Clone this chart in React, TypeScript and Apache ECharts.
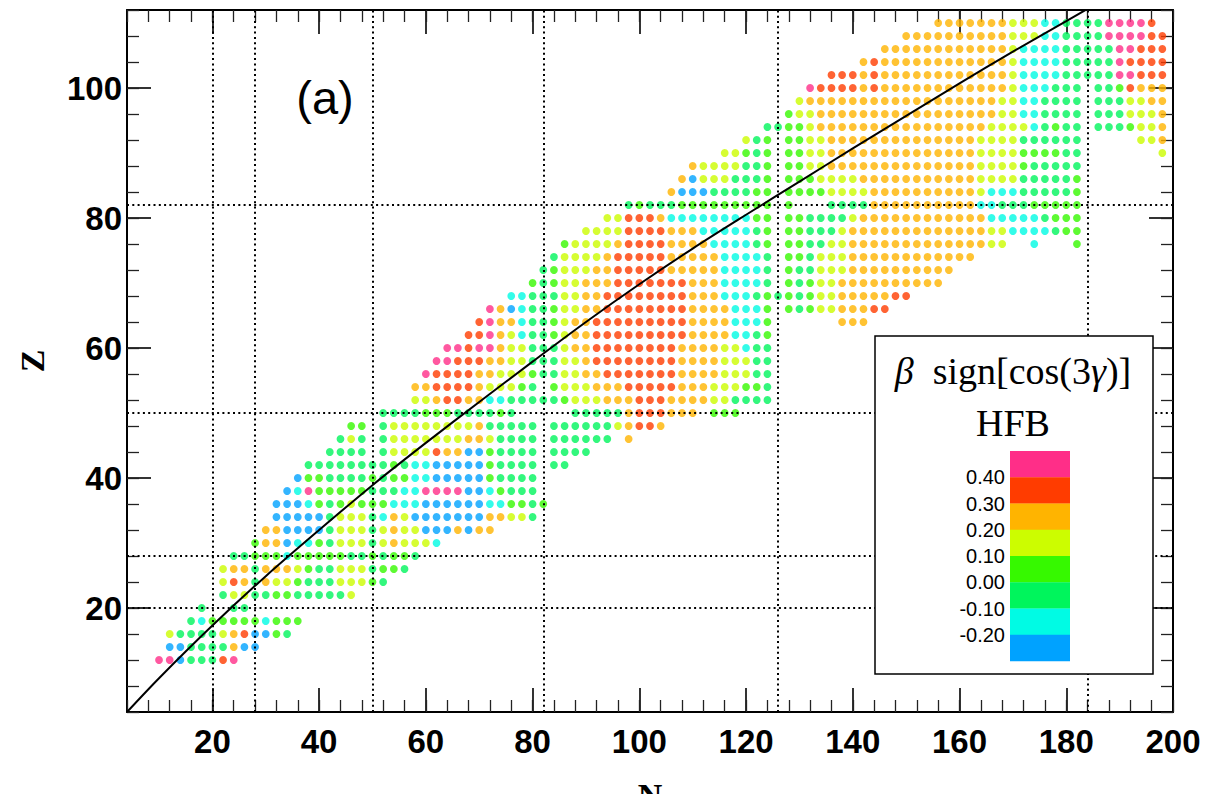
import React, { useEffect, useRef } from "react";
import * as echarts from "echarts";

// magic numbers (dotted guide lines)
const magicN: number[] = [20, 28, 50, 82, 126, 184];
const magicZ: number[] = [20, 28, 50, 82];

// tick labels
const nTicks: number[] = [20, 40, 60, 80, 100, 120, 140, 160, 180, 200];
const zTicks: number[] = [20, 40, 60, 80, 100];

// colour bins (top of colour bar to bottom)
const binCodes: string[] = ["P", "R", "O", "Y", "G", "T", "C", "B"];
const binValues: number[] = [0.45, 0.35, 0.25, 0.15, 0.05, -0.05, -0.15, -0.25];
const binColors: string[] = ["#ff2e88", "#ff3c00", "#ffb400", "#ccfd00", "#36f900", "#00f55c", "#00fbe4", "#00a2ff"];
const binLabels: string[] = ["0.40", "0.30", "0.20", "0.10", "0.00", "-0.10", "-0.20"];

// beta-stability line: [N, Z]
const stabilityLine: number[][] = [
  [4, 4], [10, 9.2], [20, 17.3], [30, 24.9], [40, 32.0], [50, 38.9], [60, 45.4],
  [70, 51.7], [80, 57.9], [90, 64.0], [100, 69.8], [110, 75.3], [120, 80.5],
  [130, 85.6], [140, 90.7], [150, 95.7], [160, 100.7], [170, 105.6], [180, 110.3], [190, 115],
];

// rows of even-even nuclei: [Z, first N, run-length coded bins per even N ('.' = empty)]
const deformationRows: [number, number, string][] = [
  [12, 10, "P2BT3RP"],
  [14, 12, "B2T4OB2"],
  [16, 12, "YT4YORB2GT"],
  [18, 16, "TCG5CG3"],
  [20, 18, "T.2T2"],
  [22, 22, "TY2T2G2T5Y"],
  [24, 22, "YROTOY2GT3Y3GT"],
  [26, 22, "YO2TO3YGT2Y3TG2T"],
  [28, 24, "T2G3CG5T2GTG2T"],
  [30, 28, "GO2BC2GTY3TYOY3C"],
  [32, 30, "O2B4TY3TYOY2B3OBO2"],
  [34, 32, "B5TY3TCOYB7O2Y2T"],
  [36, 32, "B3CGTGYG3C3B6C2G2TG"],
  [38, 34, "BCPG5T3C2P4B2CGT3"],
  [40, 36, "BG2T4GTG2C2B5GT4"],
  [42, 38, "T8GTC2B5GT4.T2"],
  [44, 42, "T4.TY4RO2B2GT4.T4"],
  [46, 44, "TYT.TY7O2YT4.T6.O"],
  [48, 46, "G2.TY8OT5.T6YOR2O"],
  [50, 52, "T4G3T4GT.5T5OR3O3.G3"],
  [52, 58, "Y2OR2O2C2T5GY3O3R3O4Y2T4"],
  [54, 58, "O2R4OY3GT.GY3O3R5O3Y3G2T"],
  [56, 60, "PR4O2Y3GT2Y2O2R7O4Y3T2"],
  [58, 62, "P2R3O2Y2T3Y2OR8O4Y3T2"],
  [60, 64, "P2RP2OY2T3YO2R8O4Y2CT2"],
  [62, 68, "R2POYCT2GYO2R9O4C2TG"],
  [64, 70, "RPO2CT2GYO2R9O4C3G.6O3"],
  [66, 72, "POBCT2GY2O2R8O4C3G.GTGY2O3R2"],
  [68, 76, "C2T3Y2O2R8O3C3TGTGTGY2O5R2"],
  [70, 80, "GTGY2O3R7O3C4T.GTGY2O10"],
  [72, 82, "TGY3O2R5O5C4T.GT2Y3O10"],
  [74, 84, "TY4OR5O5C4T.G2TY3O12"],
  [76, 86, "GY4OR4O4C4TG.G2T2Y2O13Y2.2C.3G"],
  [78, 90, "Y4R4O3C5TG.G2T3YO13Y2C4TG2"],
  [80, 94, "Y2R3OC8G2.G2T4YO12C5TG3"],
  [82, 98, "TGT3G9.G.3T4O10C2T3G5"],
  [84, 106, "OB3T4G2.G4Y4O10YC3T5G"],
  [86, 108, "OBY3T3G.G3Y4O11Y4T5G"],
  [88, 110, "OY4T2G.G2Y2O14Y4GT5"],
  [90, 116, "Y2GTG.G2Y2O14Y4G4T2.7Y"],
  [92, 120, "YTG.G2Y2O14Y4T6.5Y2O"],
  [94, 124, "T2G2YO16Y4CTGT2.T3GY2O"],
  [96, 128, "GY2O17Y2C2T4.T3Y3O"],
  [98, 130, "YO18Y2C2T4.T3Y2O2"],
  [100, 132, "PR4ORO12YC3T3.T2GRO3"],
  [102, 136, "R3ORO12YC4T5P2R3"],
  [104, 142, "ORO12YC4T5PR4"],
  [106, 146, "O12YC4T5P2R3"],
  [108, 150, "O10Y3C2T4P4R2"],
  [110, 156, "O7Y3C2T4P4R"],
];

function decodeRow(s: string): string[] {
  const out: string[] = [];
  let i = 0;
  while (i < s.length) {
    const ch = s[i++];
    let num = "";
    while (i < s.length && s[i] >= "0" && s[i] <= "9") num += s[i++];
    const n = num ? parseInt(num, 10) : 1;
    for (let k = 0; k < n; k++) out.push(ch);
  }
  return out;
}

function buildPoints() {
  const pts: any[] = [];
  for (const [z, n0, code] of deformationRows) {
    decodeRow(code).forEach((c, i) => {
      const k = binCodes.indexOf(c);
      if (k < 0) return;
      pts.push({ value: [n0 + 2 * i, z, binValues[k]], itemStyle: { color: binColors[k] } });
    });
  }
  return pts;
}

const SANS = "Liberation Sans";
const SERIF = "Liberation Serif";

export default function App() {
  const ref = useRef<HTMLDivElement>(null);
  useEffect(() => {
    if (!ref.current) return;
    const chart = echarts.init(ref.current, undefined, { renderer: "svg" });

    const majorTickStyle = { color: "#000", width: 1.6 };
    const minorTickStyle = { color: "#222", width: 1.3 };
    const frame = { show: true, onZero: false, lineStyle: { color: "#000", width: 2 } };

    const xMajor = (pos: string, labels: boolean) => ({
      type: "value", position: pos, min: 4, max: 200,
      axisLine: frame,
      axisTick: { show: true, inside: true, length: 24, customValues: nTicks, lineStyle: majorTickStyle },
      axisLabel: labels
        ? { show: true, customValues: nTicks, fontFamily: SANS, fontWeight: "bold", fontSize: 33, color: "#000", margin: 13 }
        : { show: false },
      splitLine: { show: false },
      ...(labels
        ? { name: "N", nameLocation: "middle", nameGap: 66,
            nameTextStyle: { fontFamily: SERIF, fontWeight: "bold", fontSize: 34, color: "#000" } }
        : {}),
    });
    const xMinor = (pos: string) => ({
      type: "value", position: pos, min: 4, max: 200, interval: 4,
      axisLine: { show: false },
      axisTick: { show: true, inside: true, length: 12, lineStyle: minorTickStyle },
      axisLabel: { show: false }, splitLine: { show: false },
    });
    const yMajor = (pos: string, labels: boolean) => ({
      type: "value", position: pos, min: 4, max: 112,
      axisLine: frame,
      axisTick: { show: true, inside: true, length: 24, customValues: zTicks, lineStyle: majorTickStyle },
      axisLabel: labels
        ? { show: true, customValues: zTicks, fontFamily: SANS, fontWeight: "bold", fontSize: 33, color: "#000", margin: 5 }
        : { show: false },
      splitLine: { show: false },
      ...(labels
        ? { name: "Z", nameLocation: "middle", nameGap: 78,
            nameTextStyle: { fontFamily: SERIF, fontWeight: "bold", fontSize: 34, color: "#000" } }
        : {}),
    });
    const yMinor = (pos: string) => ({
      type: "value", position: pos, min: 4, max: 112, interval: 4,
      axisLine: { show: false },
      axisTick: { show: true, inside: true, length: 12, lineStyle: minorTickStyle },
      axisLabel: { show: false }, splitLine: { show: false },
    });

    const binH = 26.25;
    const legendEls: any[] = [
      { type: "rect", z: 100, shape: { x: 875, y: 336, width: 278, height: 338 },
        style: { fill: "#fff", stroke: "#000", lineWidth: 1.5 } },
      { type: "text", z: 101, x: 1013, y: 371,
        style: { text: "{i|β}  sign[cos(3{i|γ})]", fontFamily: SERIF, fontSize: 38, fill: "#000",
          align: "center", verticalAlign: "middle",
          rich: { i: { fontStyle: "italic", fontFamily: SERIF, fontSize: 38, fill: "#000" } } } },
      { type: "text", z: 101, x: 1013, y: 423,
        style: { text: "HFB", fontFamily: SERIF, fontSize: 38, fill: "#000", align: "center", verticalAlign: "middle" } },
    ];
    binColors.forEach((c, i) => {
      legendEls.push({ type: "rect", z: 101, shape: { x: 1010, y: 451 + i * binH, width: 60, height: binH + 0.3 },
        style: { fill: c, stroke: "none" } });
    });
    binLabels.forEach((t, i) => {
      legendEls.push({ type: "text", z: 101, x: 1005, y: 451 + (i + 1) * binH,
        style: { text: t, fontFamily: SANS, fontSize: 20, fill: "#000", align: "right", verticalAlign: "middle" } });
    });

    const option: any = {
      animation: false,
      backgroundColor: "#fff",
      grid: { left: 127, top: 10, width: 1046, height: 702, containLabel: false, outerBoundsMode: "none" },
      xAxis: [xMajor("bottom", true), xMinor("bottom"), xMajor("top", false), xMinor("top")],
      yAxis: [yMajor("left", true), yMinor("left"), yMajor("right", false), yMinor("right")],
      series: [
        {
          type: "scatter", xAxisIndex: 0, yAxisIndex: 0, symbol: "circle", symbolSize: 7.8,
          data: buildPoints(), z: 2, silent: true,
          markLine: {
            silent: true, symbol: ["none", "none"], label: { show: false }, z: 5,
            lineStyle: { color: "#000", width: 2, type: [2, 3.3] },
            data: [...magicN.map((n) => ({ xAxis: n })), ...magicZ.map((z) => ({ yAxis: z }))],
          },
        },
        {
          type: "line", xAxisIndex: 0, yAxisIndex: 0, data: stabilityLine, smooth: 0.3,
          showSymbol: false, symbol: "none", clip: true, z: 6, silent: true,
          lineStyle: { color: "#000", width: 2 },
        },
      ],
      graphic: [
        { type: "text", z: 100, x: 325, y: 97,
          style: { text: "(a)", fontFamily: SANS, fontSize: 47, fill: "#000", align: "center", verticalAlign: "middle" } },
        ...legendEls,
      ],
    };
    chart.setOption(option);
    return () => chart.dispose();
  }, []);
  return <div ref={ref} style={{ position: "fixed", left: 0, top: 0, width: 1222, height: 794, background: "#fff" }} />;
}
